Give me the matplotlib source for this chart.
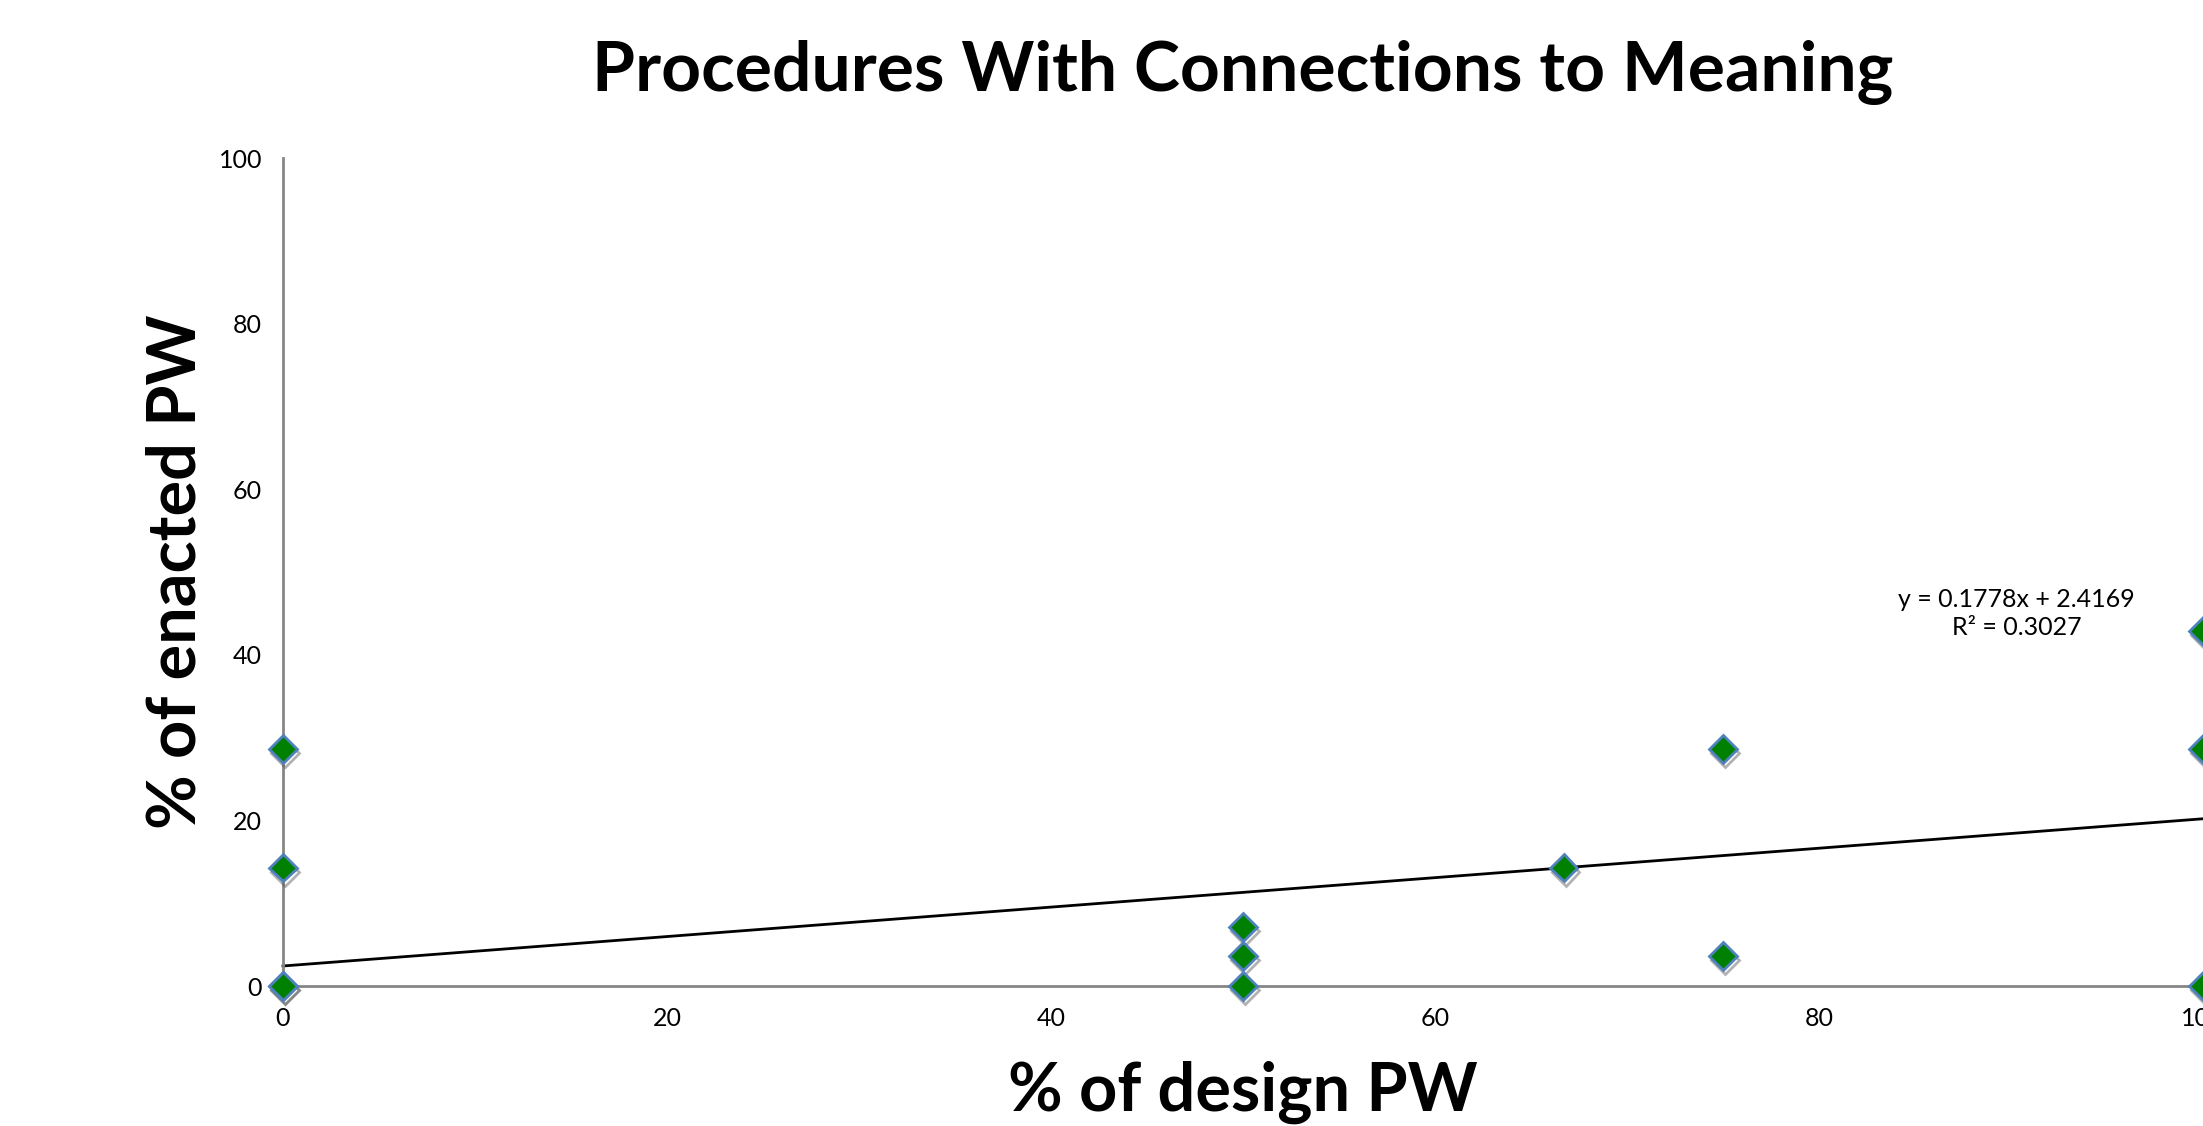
import numpy as np
import matplotlib
matplotlib.use("Agg")
import matplotlib.pyplot as plt
import matplotlib.patheffects as pe

# valores
design_pw = [0, 0, 0, 0, 50, 50, 50, 66.7, 75, 75, 100, 100, 100]
enacted_pw = [28.6, 14.3, 0, 0, 7.1, 3.6, 0, 14.3, 28.6, 3.6, 42.9, 28.6, 0]
slope = 0.1778
intercept = 2.4169
r2 = 0.3027
ticks = [0, 20, 40, 60, 80, 100]

plt.rcParams['font.family'] = ['Lato', 'DejaVu Sans']

fig = plt.figure(figsize=(22.03, 11.26), dpi=100)
ax = fig.add_axes([283 / 2203, 140 / 1126, 1920 / 2203, 828 / 1126])

# linha de tendencia
xl = np.array([0, 100])
ax.plot(xl, slope * xl + intercept, color='black', lw=2, zorder=2, clip_on=False)

shadow = [pe.SimpleLineShadow(offset=(1.5, -3), shadow_color='#555555', alpha=0.45), pe.Normal()]
ax.plot(design_pw, enacted_pw, linestyle='none', marker='D', ms=14,
        markerfacecolor='#008000', markeredgecolor='#4F81BD', markeredgewidth=2,
        clip_on=False, zorder=3, path_effects=shadow)

ax.set_xlim(0, 100)
ax.set_ylim(0, 100)
ax.set_xticks(ticks)
ax.set_yticks(ticks)
ax.tick_params(length=0, labelsize=18, pad=15)
for s in ['top', 'right']:
    ax.spines[s].set_visible(False)
for s in ['left', 'bottom']:
    ax.spines[s].set_color('#868686')
    ax.spines[s].set_linewidth(2)

ax.set_title('Procedures With Connections to Meaning', fontsize=50, fontweight='bold', pad=48)
ax.set_xlabel('% of design PW', fontsize=48, fontweight='bold', labelpad=22)
ax.set_ylabel('% of enacted PW', fontsize=48, fontweight='bold', labelpad=8)

ax.text(90.3, 45.0, 'y = %.4fx + %.4f\nR² = %.4f' % (slope, intercept, r2),
        ha='center', va='center', fontsize=18, linespacing=1.3)

fig.savefig('out.png', dpi=100)
